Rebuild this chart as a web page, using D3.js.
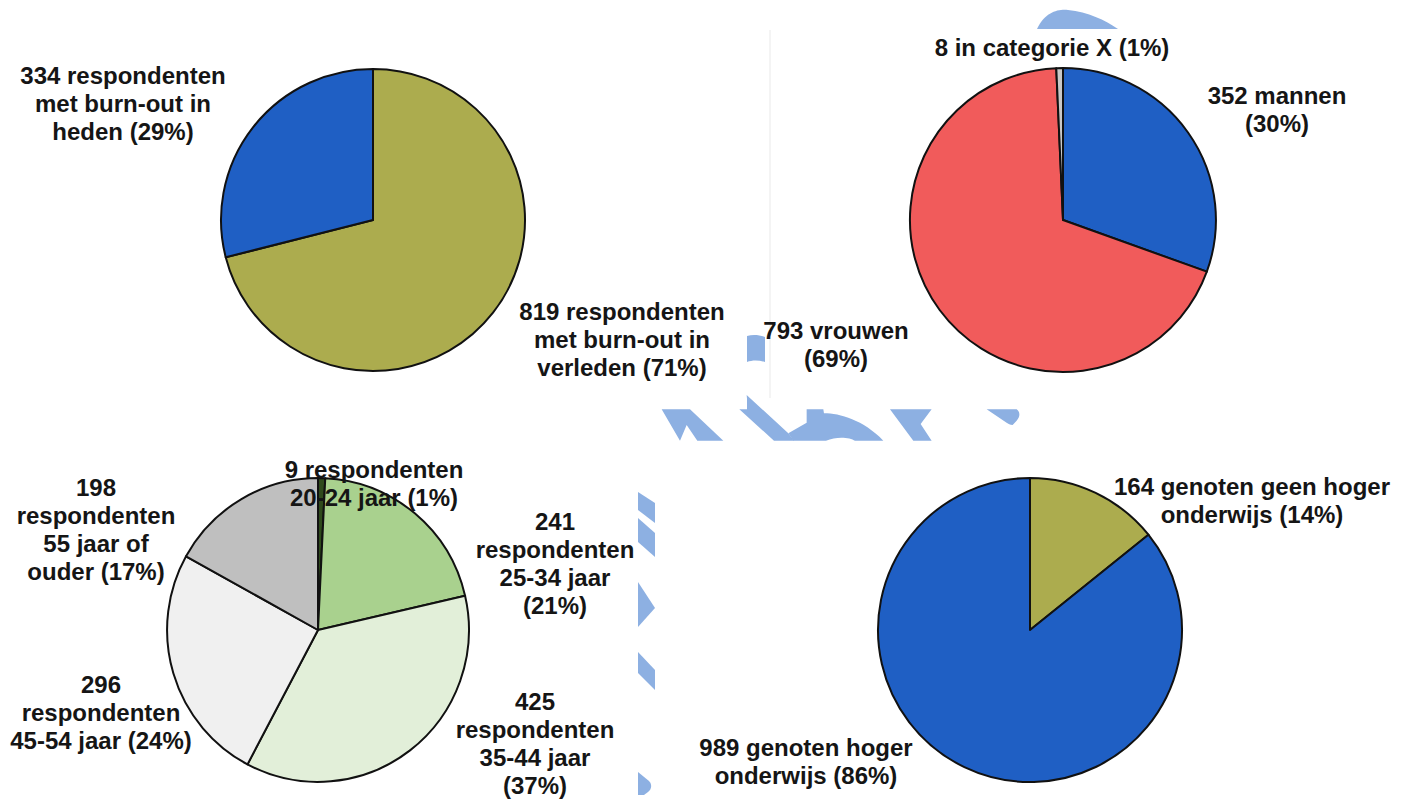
<!DOCTYPE html>
<html>
<head>
<meta charset="utf-8">
<script src="https://cdn.jsdelivr.net/npm/d3@7"></script>
<style>
  html, body { margin: 0; padding: 0; background: #ffffff; }
  svg { display: block; }
  .lbl { font-family: "Liberation Sans", Arial, sans-serif; font-weight: bold; font-size: 24px; fill: #151515; }
</style>
</head>
<body>
<svg id="chart" width="1406" height="805"></svg>
<script>
// ---- data ----
// Burn-out: heden vs verleden
const burnoutCategories = ["verleden", "heden"];
const burnoutValues = [819, 334];
const burnoutPct = ["71%", "29%"];

// Geslacht
const genderCategories = ["mannen", "vrouwen", "categorie X"];
const genderValues = [352, 793, 8];
const genderPct = ["30%", "69%", "1%"];

// Leeftijd
const ageCategories = ["20-24 jaar", "25-34 jaar", "35-44 jaar", "45-54 jaar", "55 jaar of ouder"];
const ageValues = [9, 241, 425, 296, 198];
const agePct = ["1%", "21%", "37%", "24%", "17%"];

// Opleiding
const eduCategories = ["geen hoger onderwijs", "hoger onderwijs"];
const eduValues = [164, 989];
const eduPct = ["14%", "86%"];

// ---- layout ----
const COLORS = {
  blue: "#1f5fc4", olive: "#acac4e", red: "#f15b5b",
  dark: "#2f4a1c", green: "#a9d18e", paleGreen: "#e2efd9",
  paleGrey: "#f0f0f0", grey: "#bfbfbf", xGrey: "#c8c8c8"
};
const LINE_H = 28;

const charts = [
  {
    values: burnoutValues, pct: burnoutPct,
    colors: [COLORS.olive, COLORS.blue],
    cx: 373, cy: 220, rx: 152, ry: 151,
    labels: [
      { x: 622, y: 320, lines: ["{v} respondenten", "met burn-out in", "verleden ({p})"] },
      { x: 123, y: 84, lines: ["{v} respondenten", "met burn-out in", "heden ({p})"] }
    ]
  },
  {
    values: genderValues, pct: genderPct,
    colors: [COLORS.blue, COLORS.red, COLORS.xGrey],
    cx: 1063, cy: 220, rx: 153, ry: 152,
    labels: [
      { x: 1277, y: 104, lines: ["{v} mannen", "({p})"] },
      { x: 836, y: 339, lines: ["{v} vrouwen", "({p})"] },
      { x: 1052, y: 56, lines: ["{v} in categorie X ({p})"] }
    ]
  },
  {
    values: ageValues, pct: agePct,
    colors: [COLORS.dark, COLORS.green, COLORS.paleGreen, COLORS.paleGrey, COLORS.grey],
    cx: 318, cy: 630, rx: 151, ry: 152,
    labels: [
      { x: 374, y: 478, lines: ["{v} respondenten", "20-24 jaar ({p})"], front: true },
      { x: 555, y: 530, lines: ["{v}", "respondenten", "25-34 jaar", "({p})"] },
      { x: 535, y: 710, lines: ["{v}", "respondenten", "35-44 jaar", "({p})"] },
      { x: 101, y: 693, lines: ["{v}", "respondenten", "45-54 jaar ({p})"] },
      { x: 96, y: 496, lines: ["{v}", "respondenten", "55 jaar of", "ouder ({p})"] }
    ]
  },
  {
    values: eduValues, pct: eduPct,
    colors: [COLORS.olive, COLORS.blue],
    cx: 1030, cy: 630, rx: 152, ry: 152,
    labels: [
      { x: 1252, y: 495, lines: ["{v} genoten geen hoger", "onderwijs ({p})"] },
      { x: 806, y: 756, lines: ["{v} genoten hoger", "onderwijs ({p})"] }
    ]
  }
];

const svg = d3.select("#chart");

// ---- faint watermark fragments in the gaps between the panels ----
const WM = "#8db0e2";
const wmShapes = [
  // top dome
  "M1037,29 C1045,12 1058,9 1068,10 C1088,12 1105,20 1118,29 Z",
  // left of the gender panel
  "M747,336 C753,334 760,335 765,337 L765,362 C759,360 752,360 747,362 Z",
  "M747,397 L762,410 L747,410 Z",
  // strip right of the age panel
  "M638,492 L655,503 L655,523 L638,510 Z",
  "M638,518 L655,533 L655,557 L638,542 Z",
  "M638,582 L655,608 L638,627 Z",
  "M638,652 L655,670 L655,690 L638,673 Z",
  "M638,772 L649,781 C652,784 652,789 648,792 L644,795 L638,795 Z"
];
// middle band fragments (drawn in a 3x local frame)
const wmBand = [
  "M125,88 L210,88 L310,182 L232,182 L200,135 L180,182 Z",
  "M380,45 L384,88 L358,88 L462,182 L522,182 L505,160 Z",
  "M560,88 L610,88 L612,100 C660,100 730,120 790,182 L705,182 C690,172 650,168 618,182 L520,182 L505,160 L560,128 Z",
  "M810,88 L935,88 L902,132 L935,182 L880,182 Z",
  "M1100,88 L1190,88 C1200,95 1202,108 1190,122 L1178,135 C1170,134 1165,131 1160,128 Z"
];
const wm = svg.append("g").attr("class", "watermark");
wm.selectAll("path.a").data(wmShapes).join("path").attr("class", "a").attr("d", d => d).attr("fill", WM);
wm.append("g").attr("transform", "translate(620,380) scale(0.3333)")
  .selectAll("path").data(wmBand).join("path").attr("d", d => d).attr("fill", WM);

// faint panel edge of the gender panel
svg.append("line").attr("x1", 770).attr("x2", 770).attr("y1", 30).attr("y2", 398)
  .attr("stroke", "#f1f1f1").attr("stroke-width", 1.5);

// ---- pies ----
const pie = d3.pie().sort(null).value(d => d).startAngle(0).endAngle(2 * Math.PI);
const arc = d3.arc().innerRadius(0).outerRadius(1);

function fillLines(lines, v, p) {
  return lines.map(s => s.replace("{v}", v).replace("{p}", p));
}

const frontLabels = [];
charts.forEach(c => {
  const g = svg.append("g").attr("transform", `translate(${c.cx},${c.cy}) scale(${c.rx},${c.ry})`);
  g.selectAll("path").data(pie(c.values)).join("path")
    .attr("d", arc)
    .attr("fill", (d, i) => c.colors[i])
    .attr("stroke", "#111")
    .attr("stroke-width", 2)
    .attr("stroke-linejoin", "round")
    .attr("vector-effect", "non-scaling-stroke");

  c.labels.forEach((L, i) => {
    const lines = fillLines(L.lines, c.values[i], c.pct[i]);
    if (L.front) { frontLabels.push({ L, lines }); return; }
    drawLabel(svg, L, lines);
  });
});
frontLabels.forEach(f => drawLabel(svg, f.L, f.lines));

function drawLabel(parent, L, lines) {
  const t = parent.append("text").attr("class", "lbl").attr("text-anchor", "middle")
    .attr("x", L.x).attr("y", L.y);
  lines.forEach((s, k) => {
    t.append("tspan").attr("x", L.x).attr("y", L.y + k * LINE_H).text(s);
  });
}
</script>
</body>
</html>
